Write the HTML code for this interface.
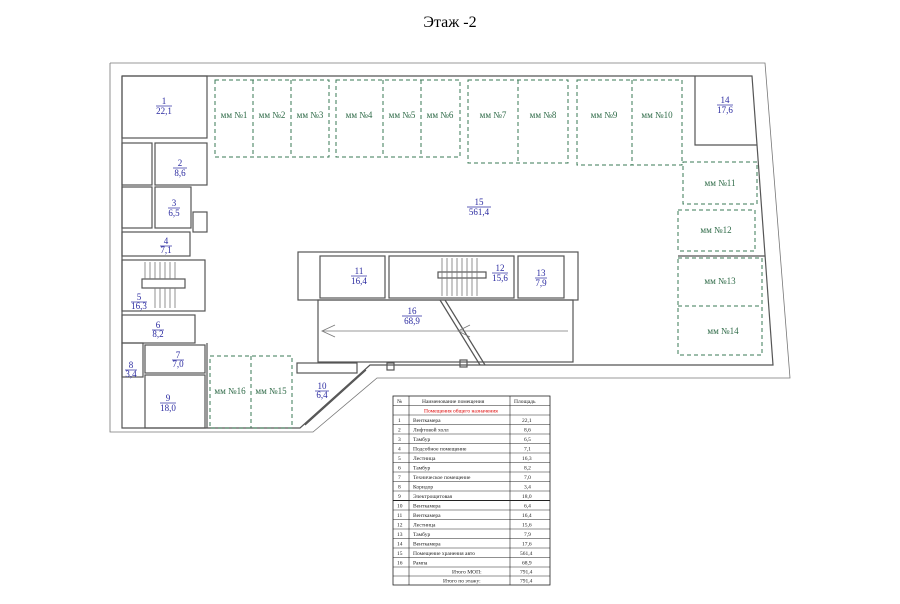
<!DOCTYPE html>
<html><head><meta charset="utf-8"><style>
html,body{margin:0;padding:0;background:#fff;width:900px;height:604px;overflow:hidden}
svg{display:block}
.w{fill:none;stroke:#555;stroke-width:1.2}
.t{fill:none;stroke:#777;stroke-width:0.8}
.g{fill:none;stroke:#3a7a55;stroke-width:1;stroke-dasharray:4,3}
.gt{font-family:"Liberation Serif",serif;font-size:9px;fill:#2f6b48;text-anchor:middle}
.bt{font-family:"Liberation Serif",serif;font-size:9px;fill:#2a2aa0;text-anchor:middle}
.tt{font-family:"Liberation Serif",serif;font-size:5.5px;fill:#222}
</style></head><body>
<svg width="900" height="604" viewBox="0 0 900 604" xmlns="http://www.w3.org/2000/svg">
<text x="450" y="27" font-family="Liberation Serif,serif" font-size="16" text-anchor="middle">Этаж -2</text>
<!-- outer boundary -->
<polyline class="t" points="110,63 765,63 790,378 377,378 313,432 110,432 110,63"/>
<polyline class="w" points="122,76 752,76 773,365 370,365 300,428 122,428 122,76"/>
<!-- inner diagonals -->
<line class="w" x1="366" y1="370" x2="305" y2="425"/>
<!-- left rooms -->
<rect class="w" x="122" y="76" width="85" height="62"/>
<rect class="w" x="122" y="143" width="30" height="42"/>
<rect class="w" x="155" y="143" width="52" height="42"/>
<rect class="w" x="122" y="187" width="30" height="41"/>
<rect class="w" x="155" y="187" width="36" height="41"/>
<rect class="w" x="193" y="212" width="14" height="20"/>
<rect class="w" x="122" y="232" width="68" height="24"/>
<rect class="w" x="122" y="260" width="83" height="51"/>
<rect class="w" x="142" y="279" width="43" height="9" stroke-width="2"/>
<g class="t"><line x1="145" y1="262" x2="145" y2="279"/><line x1="150" y1="262" x2="150" y2="279"/><line x1="155" y1="262" x2="155" y2="279"/><line x1="160" y1="262" x2="160" y2="279"/><line x1="165" y1="262" x2="165" y2="279"/><line x1="170" y1="262" x2="170" y2="279"/><line x1="175" y1="262" x2="175" y2="279"/><line x1="155" y1="288" x2="155" y2="308"/><line x1="160" y1="288" x2="160" y2="308"/><line x1="165" y1="288" x2="165" y2="308"/><line x1="170" y1="288" x2="170" y2="308"/><line x1="175" y1="288" x2="175" y2="308"/></g>
<rect class="w" x="122" y="315" width="73" height="28"/>
<rect class="w" x="122" y="343" width="21" height="34"/>
<rect class="w" x="145" y="345" width="60" height="28"/>
<rect class="w" x="145" y="375" width="60" height="53"/>
<line class="w" x1="207" y1="343" x2="207" y2="428"/>
<!-- central block -->
<rect class="w" x="298" y="252" width="280" height="48"/>
<rect class="w" x="318" y="300" width="255" height="62"/>
<rect class="w" x="320" y="256" width="65" height="42"/>
<rect class="w" x="389" y="256" width="125" height="42"/>
<rect class="w" x="518" y="256" width="46" height="42"/>
<rect class="w" x="438" y="272" width="48" height="6" stroke-width="2"/>
<g class="t"><line x1="442" y1="258" x2="442" y2="296"/><line x1="447" y1="258" x2="447" y2="296"/><line x1="452" y1="258" x2="452" y2="296"/><line x1="457" y1="258" x2="457" y2="296"/><line x1="462" y1="258" x2="462" y2="296"/><line x1="467" y1="258" x2="467" y2="296"/><line x1="472" y1="258" x2="472" y2="296"/><line x1="477" y1="258" x2="477" y2="296"/></g>
<line class="w" x1="440" y1="300" x2="480" y2="365"/><line class="w" x1="445" y1="300" x2="485" y2="365"/>
<line class="t" x1="322" y1="331" x2="568" y2="331"/>
<polyline class="t" points="335,325 322,331 335,337"/>
<polyline class="t" points="470,325 458,331 470,337"/>
<rect class="w" x="460" y="360" width="7" height="7"/><rect class="w" x="387" y="363" width="7" height="7"/>
<!-- room 10 -->
<rect class="w" x="297" y="363" width="60" height="10"/>
<!-- room 14 -->
<polyline class="w" points="695,76 695,145 757,145"/>
<line class="w" x1="678" y1="256" x2="765" y2="256"/>
<!-- parking -->
<rect class="g" x="215" y="80" width="114" height="77"/><line class="g" x1="253" y1="80" x2="253" y2="157"/><line class="g" x1="291" y1="80" x2="291" y2="157"/>
<rect class="g" x="336" y="80" width="124" height="77"/><line class="g" x1="383" y1="80" x2="383" y2="157"/><line class="g" x1="421" y1="80" x2="421" y2="157"/>
<rect class="g" x="468" y="80" width="100" height="83"/><line class="g" x1="518" y1="80" x2="518" y2="163"/>
<rect class="g" x="577" y="80" width="105" height="85"/><line class="g" x1="632" y1="80" x2="632" y2="165"/>
<rect class="g" x="683" y="162" width="74" height="42"/>
<rect class="g" x="678" y="210" width="77" height="41"/>
<rect class="g" x="678" y="258" width="84" height="97"/><line class="g" x1="678" y1="306" x2="762" y2="306"/>
<rect class="g" x="210" y="356" width="82" height="72"/><line class="g" x1="251" y1="356" x2="251" y2="428"/>
<g class="gt">
<text x="234" y="118">мм №1</text><text x="272" y="118">мм №2</text><text x="310" y="118">мм №3</text>
<text x="359" y="118">мм №4</text><text x="402" y="118">мм №5</text><text x="440" y="118">мм №6</text>
<text x="493" y="118">мм №7</text><text x="543" y="118">мм №8</text>
<text x="604" y="118">мм №9</text><text x="657" y="118">мм №10</text>
<text x="720" y="186">мм №11</text><text x="716" y="233">мм №12</text>
<text x="720" y="284">мм №13</text><text x="723" y="334">мм №14</text>
<text x="230" y="394">мм №16</text><text x="271" y="394">мм №15</text>
</g>
<g class="bt">
<text x="164" y="104">1</text><text x="164" y="114">22,1</text>
<text x="180" y="166">2</text><text x="180" y="176">8,6</text>
<text x="174" y="206">3</text><text x="174" y="216">6,5</text>
<text x="166" y="244">4</text><text x="166" y="253">7,1</text>
<text x="139" y="300">5</text><text x="139" y="309">16,3</text>
<text x="158" y="328">6</text><text x="158" y="337">8,2</text>
<text x="131" y="368">8</text><text x="131" y="377">3,4</text>
<text x="178" y="358">7</text><text x="178" y="367">7,0</text>
<text x="168" y="401">9</text><text x="168" y="411">18,0</text>
<text x="322" y="389">10</text><text x="322" y="398">6,4</text>
<text x="359" y="274">11</text><text x="359" y="284">16,4</text>
<text x="500" y="271">12</text><text x="500" y="281">15,6</text>
<text x="541" y="276">13</text><text x="541" y="286">7,9</text>
<text x="725" y="103">14</text><text x="725" y="113">17,6</text>
<text x="479" y="205">15</text><text x="479" y="215">561,4</text>
<text x="412" y="314">16</text><text x="412" y="324">68,9</text>
</g>
<g stroke="#2a2aa0" stroke-width="0.7">
<line x1="156" y1="106" x2="172" y2="106"/><line x1="173" y1="168" x2="187" y2="168"/><line x1="168" y1="208" x2="180" y2="208"/><line x1="160" y1="246" x2="172" y2="246"/><line x1="131" y1="302" x2="147" y2="302"/><line x1="152" y1="330" x2="164" y2="330"/><line x1="125" y1="370" x2="137" y2="370"/><line x1="172" y1="360" x2="184" y2="360"/><line x1="160" y1="403" x2="176" y2="403"/><line x1="315" y1="391" x2="329" y2="391"/><line x1="351" y1="276" x2="367" y2="276"/><line x1="492" y1="273" x2="508" y2="273"/><line x1="535" y1="278" x2="547" y2="278"/><line x1="717" y1="105" x2="733" y2="105"/><line x1="467" y1="207" x2="491" y2="207"/><line x1="402" y1="316" x2="422" y2="316"/>
</g>
<!-- table -->
<g>
<rect x="393" y="396" width="157" height="189" fill="#fff" stroke="#222" stroke-width="0.8"/>
<line x1="409" y1="396" x2="409" y2="585" stroke="#222" stroke-width="0.6"/>
<line x1="510" y1="396" x2="510" y2="585" stroke="#222" stroke-width="0.6"/>
<g stroke="#222" stroke-width="0.5">
<line x1="393" y1="405.5" x2="550" y2="405.5"/><line x1="393" y1="415" x2="550" y2="415"/><line x1="393" y1="424.5" x2="550" y2="424.5"/><line x1="393" y1="434" x2="550" y2="434"/><line x1="393" y1="443.5" x2="550" y2="443.5"/><line x1="393" y1="453" x2="550" y2="453"/><line x1="393" y1="462.5" x2="550" y2="462.5"/><line x1="393" y1="472" x2="550" y2="472"/><line x1="393" y1="481.5" x2="550" y2="481.5"/><line x1="393" y1="491" x2="550" y2="491"/><line x1="393" y1="500.5" x2="550" y2="500.5" stroke-width="1"/><line x1="393" y1="510" x2="550" y2="510"/><line x1="393" y1="519.5" x2="550" y2="519.5"/><line x1="393" y1="529" x2="550" y2="529"/><line x1="393" y1="538.5" x2="550" y2="538.5"/><line x1="393" y1="548" x2="550" y2="548"/><line x1="393" y1="557.5" x2="550" y2="557.5"/><line x1="393" y1="567" x2="550" y2="567"/><line x1="393" y1="576" x2="550" y2="576"/>
</g>
<g class="tt">
<text x="397" y="403">№</text><text x="422" y="403">Наименование помещения</text><text x="514" y="403">Площадь</text>
<text x="424" y="412.5" fill="#d00">Помещения общего назначения</text>
<text x="398" y="422">1</text><text x="413" y="422">Венткамера</text><text x="522" y="422">22,1</text>
<text x="398" y="431.5">2</text><text x="413" y="431.5">Лифтовой холл</text><text x="524" y="431.5">8,6</text>
<text x="398" y="441">3</text><text x="413" y="441">Тамбур</text><text x="524" y="441">6,5</text>
<text x="398" y="450.5">4</text><text x="413" y="450.5">Подсобное помещение</text><text x="524" y="450.5">7,1</text>
<text x="398" y="460">5</text><text x="413" y="460">Лестница</text><text x="522" y="460">16,3</text>
<text x="398" y="469.5">6</text><text x="413" y="469.5">Тамбур</text><text x="524" y="469.5">8,2</text>
<text x="398" y="479">7</text><text x="413" y="479">Техническое помещение</text><text x="524" y="479">7,0</text>
<text x="398" y="488.5">8</text><text x="413" y="488.5">Коридор</text><text x="524" y="488.5">3,4</text>
<text x="398" y="498">9</text><text x="413" y="498">Электрощитовая</text><text x="522" y="498">18,0</text>
<text x="397" y="507.5">10</text><text x="413" y="507.5">Венткамера</text><text x="524" y="507.5">6,4</text>
<text x="397" y="517">11</text><text x="413" y="517">Венткамера</text><text x="522" y="517">16,4</text>
<text x="397" y="526.5">12</text><text x="413" y="526.5">Лестница</text><text x="522" y="526.5">15,6</text>
<text x="397" y="536">13</text><text x="413" y="536">Тамбур</text><text x="524" y="536">7,9</text>
<text x="397" y="545.5">14</text><text x="413" y="545.5">Венткамера</text><text x="522" y="545.5">17,6</text>
<text x="397" y="555">15</text><text x="413" y="555">Помещение хранения авто</text><text x="520" y="555">561,4</text>
<text x="397" y="564.5">16</text><text x="413" y="564.5">Рампа</text><text x="522" y="564.5">68,9</text>
<text x="452" y="573.5">Итого МОП:</text><text x="520" y="573.5">791,4</text>
<text x="443" y="582.5">Итого по этажу:</text><text x="520" y="582.5">791,4</text>
</g>
</g>
</svg>
</body></html>
